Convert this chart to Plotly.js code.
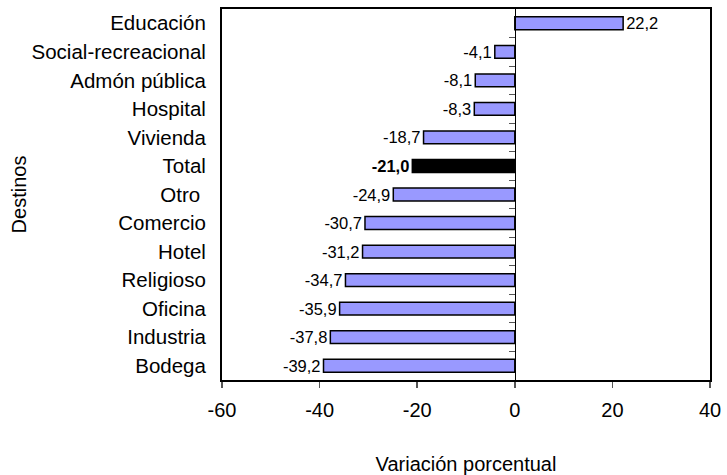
<!DOCTYPE html>
<html>
<head>
<meta charset="utf-8">
<script src="https://cdn.plot.ly/plotly-3.0.1.min.js"></script>
<style>html,body{margin:0;padding:0;background:#fff;}#chart{width:727px;height:475px;}</style>
</head>
<body>
<div id="chart"></div>
<script>
// Categories from bottom to top
var categories = ["Bodega", "Industria", "Oficina", "Religioso", "Hotel", "Comercio", "Otro ", "Total", "Vivienda", "Hospital", "Admón pública", "Social-recreacional", "Educación"];
var values = [-39.2, -37.8, -35.9, -34.7, -31.2, -30.7, -24.9, -21.0, -18.7, -8.3, -8.1, -4.1, 22.2];
var highlight = "Total";
var xTicks = [-60, -40, -20, 0, 20, 40];

var fmt = function (v) { return v.toFixed(1).replace('.', ','); };
var labels = values.map(function (v, i) {
  return categories[i] === highlight ? '<b>' + fmt(v) + '</b>' : fmt(v);
});
var colors = categories.map(function (c) { return c === highlight ? '#000000' : '#9999FF'; });
var boundaries = categories.slice(1).map(function (c, i) { return i + 0.5; });

var font = "'Liberation Sans', Arial, sans-serif";

var trace = {
  type: 'bar',
  orientation: 'h',
  y: categories,
  x: values,
  width: 0.45,
  marker: { color: colors, line: { color: '#000', width: 1.5 } },
  text: labels,
  textposition: 'outside',
  constraintext: 'none',
  cliponaxis: false,
  textfont: { family: font, size: 16.5, color: '#000' },
  hoverinfo: 'none'
};

var layout = {
  width: 727,
  height: 475,
  margin: { l: 222, r: 17, t: 9, b: 95 },
  paper_bgcolor: '#fff',
  plot_bgcolor: '#fff',
  showlegend: false,
  font: { family: font, color: '#000' },
  xaxis: {
    range: [-60, 40],
    tickvals: xTicks,
    ticktext: xTicks.map(String),
    ticks: 'outside',
    ticklen: 6,
    tickwidth: 1.5,
    tickcolor: '#555',
    ticklabelstandoff: 5,
    tickfont: { family: font, size: 20, color: '#000' },
    showgrid: false,
    zeroline: false,
    showline: true,
    linecolor: '#000',
    linewidth: 2,
    mirror: true,
    title: { text: 'Variación porcentual', font: { family: font, size: 20, color: '#000' }, standoff: 38 }
  },
  yaxis: {
    type: 'category',
    categoryorder: 'array',
    categoryarray: categories,
    range: [-0.5, categories.length - 0.5],
    ticks: '',
    tickfont: { family: font, size: 20.5, color: '#000' },
    ticklabelstandoff: 10,
    showgrid: false,
    zeroline: false,
    showline: true,
    linecolor: '#000',
    linewidth: 2,
    mirror: true,
    title: { text: 'Destinos', font: { family: font, size: 20, color: '#000' }, standoff: 0 }
  },
  yaxis2: {
    overlaying: 'y',
    anchor: 'free',
    position: 0.6,
    side: 'left',
    type: 'linear',
    range: [-0.5, categories.length - 0.5],
    tickvals: boundaries,
    showticklabels: false,
    ticks: 'outside',
    ticklen: 6,
    tickcolor: '#555',
    tickwidth: 1,
    showgrid: false,
    zeroline: false,
    showline: true,
    linecolor: '#000',
    linewidth: 1
  }
};

var dummy = { type: 'scatter', x: [0], y: [0], yaxis: 'y2', mode: 'markers', marker: { opacity: 0 }, hoverinfo: 'none', showlegend: false };

Plotly.newPlot('chart', [trace, dummy], layout, { staticPlot: true, displayModeBar: false });
</script>
</body>
</html>
